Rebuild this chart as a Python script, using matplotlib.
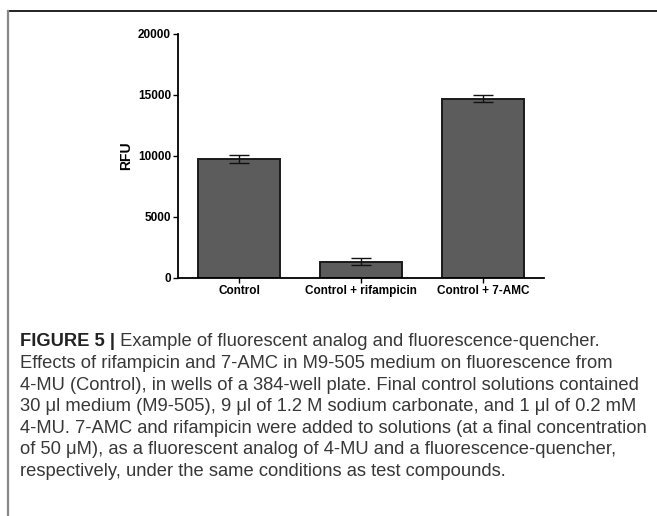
import matplotlib
matplotlib.use('Agg')
import matplotlib.pyplot as plt
from matplotlib.lines import Line2D
import numpy as np

# RFU readings (mean and SEM) for each treatment
groups = ['Control', 'Control + rifampicin', 'Control + 7-AMC']
rfu_mean = [9750, 1320, 14700]
rfu_sem = [300, 280, 310]
y_ticks = [0, 5000, 10000, 15000, 20000]

caption_head = 'FIGURE 5 |'
caption_lines = [
    ' Example of fluorescent analog and fluorescence-quencher.',
    'Effects of rifampicin and 7-AMC in M9-505 medium on fluorescence from',
    '4-MU (Control), in wells of a 384-well plate. Final control solutions contained',
    '30 \u03bcl medium (M9-505), 9 \u03bcl of 1.2 M sodium carbonate, and 1 \u03bcl of 0.2 mM',
    '4-MU. 7-AMC and rifampicin were added to solutions (at a final concentration',
    'of 50 \u03bcM), as a fluorescent analog of 4-MU and a fluorescence-quencher,',
    'respectively, under the same conditions as test compounds.',
]

W, H = 657, 516
plt.rcParams['font.family'] = ['Liberation Sans', 'DejaVu Sans']
fig = plt.figure(figsize=(W / 100, H / 100), dpi=100)

# bar chart
ax = fig.add_axes([178 / W, 1 - 278 / H, (544 - 178) / W, (278 - 34) / H])
x = np.arange(len(groups))
ax.bar(x, rfu_mean, width=0.67, color='#5c5c5c', edgecolor='#1a1a1a', linewidth=1.4, zorder=2)
ax.errorbar(x, rfu_mean, yerr=rfu_sem, fmt='none', ecolor='#111111',
            elinewidth=1.0, capsize=7.5, capthick=1.0, zorder=3)
ax.set_xlim(-0.5, 2.5)
ax.set_ylim(0, 20000)
ax.set_yticks(y_ticks)
ax.set_yticklabels([str(v) for v in y_ticks], fontsize=8.5, fontweight='bold')
ax.set_xticks(x)
ax.set_xticklabels(groups, fontsize=8.5, fontweight='bold')
ax.set_ylabel('RFU', fontsize=10, fontweight='bold', labelpad=3.5)
for side in ['top', 'right']:
    ax.spines[side].set_visible(False)
for side in ['left', 'bottom']:
    ax.spines[side].set_linewidth(1.3)
ax.tick_params(axis='both', direction='out', length=3.5, width=1.0, pad=1.5)

# panel frame
fig.add_artist(Line2D([8 / W, 1], [1 - 11 / H, 1 - 11 / H], color='#111111', lw=1.3))
fig.add_artist(Line2D([8 / W, 8 / W], [0, 1 - 11 / H], color='#888888', lw=1.6))

# caption, sized so the longest line spans the text column
cap_font = ['Liberation Sans', 'DejaVu Sans']
x0 = 20 / W
y0 = 1 - 342 / H
step = 21.6 / H
body = []
for i, line in enumerate(caption_lines[1:], start=1):
    body.append(fig.text(x0, y0 - i * step, line, fontsize=11, family=cap_font,
                         color='#383838', va='center'))
fig.canvas.draw()
widest = max(t.get_window_extent().width for t in body)
cap_size = 11 * (648 - 20) / widest
for t in body:
    t.set_fontsize(cap_size)

head = fig.text(x0, y0, caption_head, fontsize=cap_size, fontweight='bold',
                family=cap_font, color='#222222', va='center')
fig.canvas.draw()
bb = head.get_window_extent()
fig.text(bb.x1 / W, y0, caption_lines[0], fontsize=cap_size, family=cap_font,
         color='#383838', va='center')

fig.savefig('out.png', dpi=100)
